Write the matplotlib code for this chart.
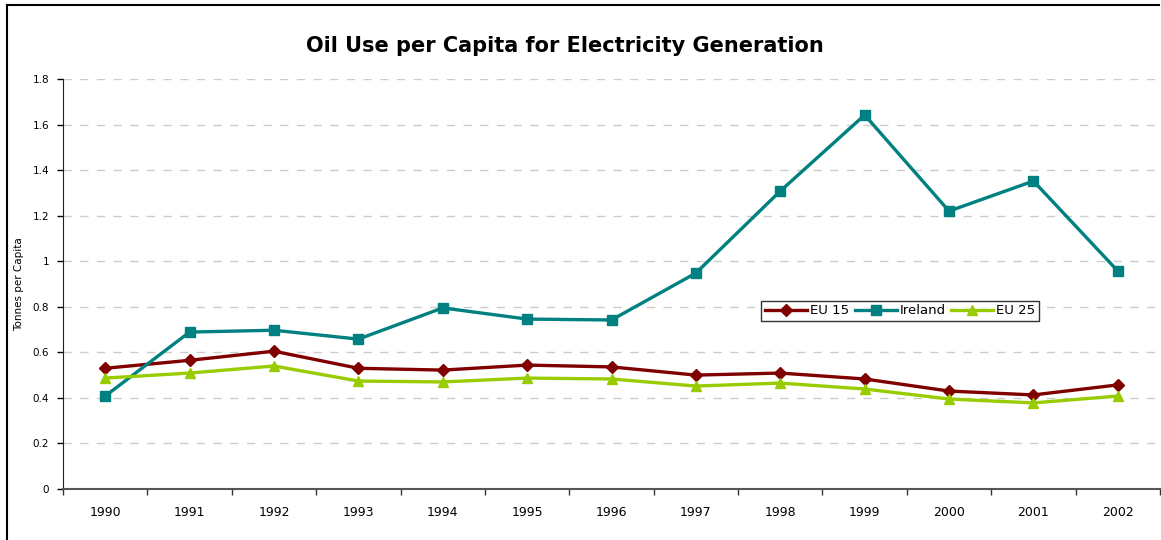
import matplotlib.pyplot as plt
from matplotlib.lines import Line2D

years = ["1990", "1991", "1992", "1993", "1994", "1995", "1996",
         "1997", "1998", "1999", "2000", "2001", "2002"]
eu15 = [0.53, 0.565, 0.605, 0.53, 0.522, 0.544, 0.536,
        0.50, 0.509, 0.483, 0.43, 0.413, 0.457]
ireland = [0.408, 0.689, 0.697, 0.658, 0.795, 0.746, 0.742,
           0.948, 1.308, 1.642, 1.22, 1.352, 0.957]
eu25 = [0.487, 0.509, 0.54, 0.474, 0.47, 0.487, 0.483,
        0.452, 0.465, 0.439, 0.395, 0.378, 0.408]

W, H = 1161, 540
fig = plt.figure(figsize=(W / 100, H / 100), dpi=100)
ax = fig.add_axes([63 / W, 1 - 489 / H, (1160 - 63) / W, (489 - 79) / H])

x = list(range(len(years)))
ax.plot(x, eu15, color="#800000", lw=2.4, marker="D", ms=6.5, label="EU 15")
ax.plot(x, ireland, color="#008080", lw=2.4, marker="s", ms=6.5, label="Ireland")
ax.plot(x, eu25, color="#99CC00", lw=2.4, marker="^", ms=7.5, label="EU 25")

ax.set_xlim(-0.5, len(years) - 0.5)
ax.set_ylim(0, 1.8)
ax.set_yticks([i * 0.2 for i in range(10)])
ax.set_yticklabels(["0", "0.2", "0.4", "0.6", "0.8", "1", "1.2", "1.4", "1.6", "1.8"])
ax.yaxis.grid(True, linestyle=(0, (6, 6)), color="#cccccc", lw=1)
ax.set_axisbelow(True)

# category boundaries get tick marks, labels sit in the middle
ax.set_xticks([i - 0.5 for i in range(len(years) + 1)])
ax.set_xticklabels([])
ax.set_xticks(x, minor=True)
ax.set_xticklabels(years, minor=True, fontsize=9)
ax.tick_params(axis="x", which="minor", length=0, pad=12)
ax.tick_params(axis="x", which="major", length=4, width=1, color="#333333")
ax.tick_params(axis="y", length=4, width=1, labelsize=7.5, pad=6)

for s in ["top", "right"]:
    ax.spines[s].set_visible(False)
ax.spines["left"].set_color("#222222")
ax.spines["bottom"].set_color("#555555")
ax.spines["bottom"].set_linewidth(1.5)

ax.set_ylabel("Tonnes per Capita", fontsize=7.5, labelpad=6)
fig.text(565 / W, 1 - 46 / H, "Oil Use per Capita for Electricity Generation",
         ha="center", va="center", fontsize=15, fontweight="bold")

leg = ax.legend(loc="center", bbox_to_anchor=(900 / W, 1 - 311 / H),
                bbox_transform=fig.transFigure, ncol=3, fontsize=9.5,
                frameon=True, fancybox=False, handlelength=3.2, columnspacing=0.4,
                handletextpad=0.2, borderpad=0.3, borderaxespad=0)
leg.get_frame().set_edgecolor("black")
leg.get_frame().set_linewidth(1)

# outer chart border (left and top visible)
fig.add_artist(Line2D([7 / W, 7 / W], [0, 1 - 5 / H], color="black", lw=1.5,
                      transform=fig.transFigure))
fig.add_artist(Line2D([7 / W, 1159 / W], [1 - 5 / H, 1 - 5 / H], color="black",
                      lw=1.5, transform=fig.transFigure))

fig.savefig("out.png", dpi=100)
